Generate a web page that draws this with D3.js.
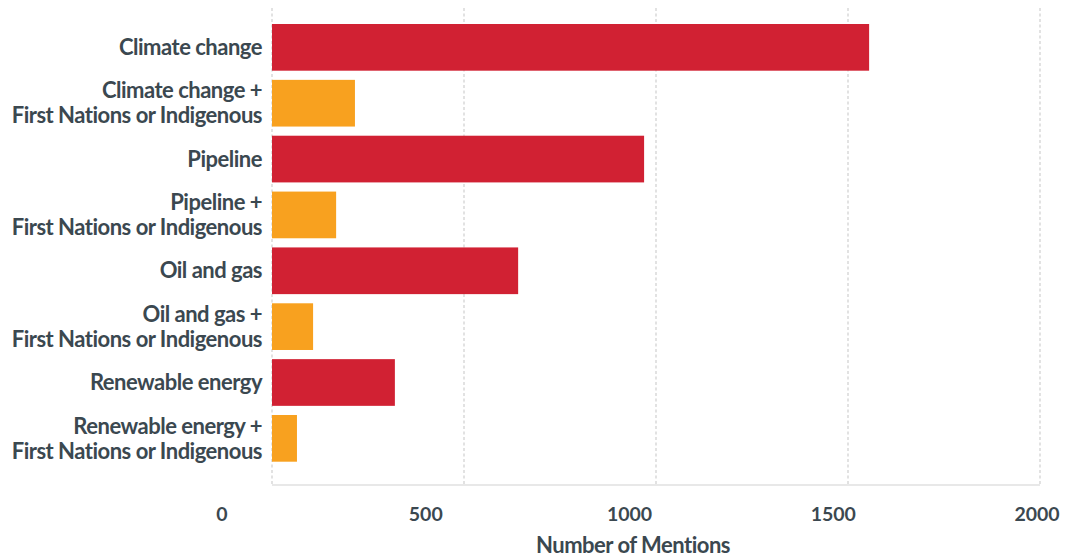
<!DOCTYPE html>
<html>
<head>
<meta charset="utf-8">
<script src="https://cdn.jsdelivr.net/npm/d3@7"></script>
<style>
  html, body { margin: 0; padding: 0; background: #fff; }
  svg { display: block; font-family: Lato, "Open Sans", sans-serif; }
</style>
</head>
<body>
<svg id="chart" width="1066" height="557"></svg>
<script>
// Mentions of each topic, alone and combined with "First Nations or Indigenous"
const categories = [
  ["Climate change"],
  ["Climate change +", "First Nations or Indigenous"],
  ["Pipeline"],
  ["Pipeline +", "First Nations or Indigenous"],
  ["Oil and gas"],
  ["Oil and gas +", "First Nations or Indigenous"],
  ["Renewable energy"],
  ["Renewable energy +", "First Nations or Indigenous"]
];
const mentions = [1555, 216, 969, 167, 641, 107, 320, 65];
const kinds = ["topic", "combined", "topic", "combined", "topic", "combined", "topic", "combined"];
const tickValues = [0, 500, 1000, 1500, 2000];
const axisTitle = "Number of Mentions";

const colors = { topic: "#d12133", combined: "#f8a11f" };
const textColor = "#3b4850";

const svg = d3.select("#chart");
const rows = categories.map((c, i) => ({ label: c, value: mentions[i], kind: kinds[i], key: c.join(" ") }));

const x = d3.scaleLinear().domain([0, 2000]).range([272, 1040]);
// tick labels are spread across a slightly wider span than the plot
const xLabel = d3.scaleLinear().domain([0, 2000]).range([222, 1037]);
const y = d3.scaleBand().domain(rows.map(d => d.key)).range([24, 461.7]).paddingInner(0.164).paddingOuter(0);

// vertical dotted gridlines
svg.append("g").selectAll("line").data(tickValues).join("line")
  .attr("x1", d => x(d)).attr("x2", d => x(d))
  .attr("y1", 8).attr("y2", 485)
  .attr("stroke", "#e2e2e2").attr("stroke-width", 2).attr("stroke-dasharray", "3,2.5");

// baseline
svg.append("line")
  .attr("x1", x(0)).attr("x2", x(2000)).attr("y1", 485).attr("y2", 485)
  .attr("stroke", "#e0e0e0").attr("stroke-width", 1.5);

// bars
svg.append("g").selectAll("rect").data(rows).join("rect")
  .attr("x", x(0))
  .attr("y", d => y(d.key))
  .attr("width", d => x(d.value) - x(0))
  .attr("height", y.bandwidth())
  .attr("fill", d => colors[d.kind]);

// category labels
const lab = svg.append("g").selectAll("text").data(rows).join("text")
  .attr("text-anchor", "end")
  .attr("fill", textColor)
  .attr("font-size", 22)
  .attr("font-weight", 700)
  .attr("letter-spacing", -0.5)
  .attr("transform", d => `translate(262,${y(d.key) + y.bandwidth() / 2})`);
lab.each(function(d) {
  const n = d.label.length;
  const lh = 25;
  d3.select(this).selectAll("tspan").data(d.label).join("tspan")
    .attr("x", 0)
    .attr("y", (t, i) => (i - (n - 1) / 2) * lh)
    .attr("dy", "0.35em")
    .text(t => t);
});

// x tick labels
svg.append("g").selectAll("text").data(tickValues).join("text")
  .attr("x", d => xLabel(d))
  .attr("y", 521)
  .attr("text-anchor", "middle")
  .attr("fill", textColor)
  .attr("font-size", 19.5)
  .attr("font-weight", 700)
  .text(d => d);

// axis title
svg.append("text")
  .attr("x", 633).attr("y", 553)
  .attr("text-anchor", "middle")
  .attr("fill", textColor)
  .attr("font-size", 22)
  .attr("font-weight", 700)
  .attr("letter-spacing", -0.5)
  .text(axisTitle);
</script>
</body>
</html>
